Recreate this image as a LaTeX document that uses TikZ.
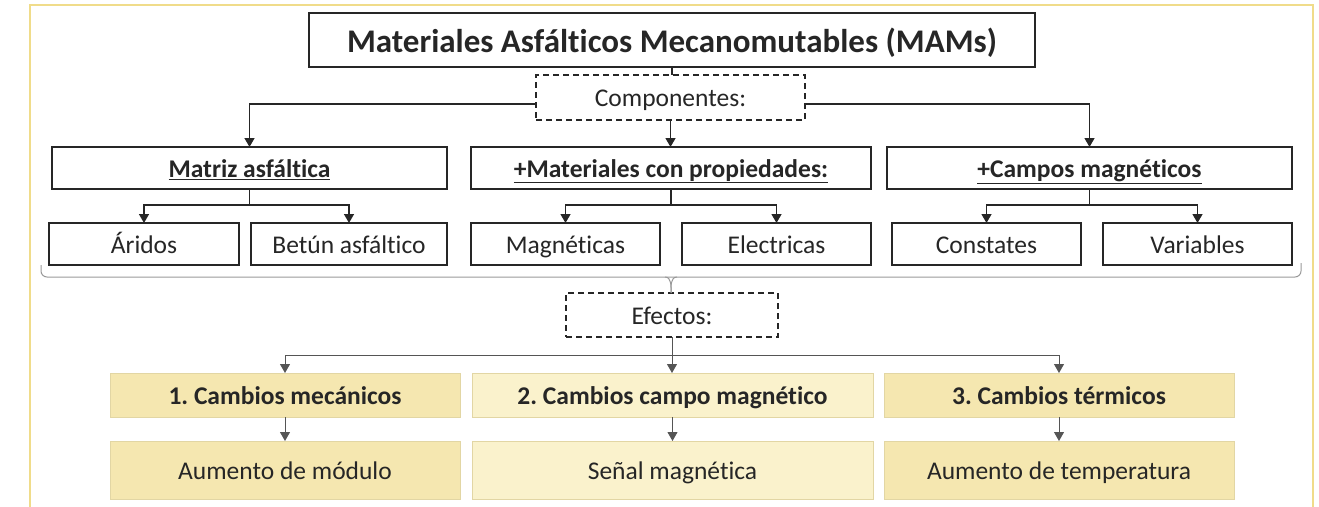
\documentclass[tikz,border=0pt]{standalone}
\usepackage{fontspec}
\setmainfont{Carlito}[Ligatures=NoCommon]
\frenchspacing
\usetikzlibrary{arrows.meta,calc}
\definecolor{ink}{HTML}{262626}
\definecolor{frameY}{HTML}{F0DC8A}
\definecolor{fillA}{HTML}{F5E7B0}
\definecolor{fillB}{HTML}{FAF2CC}
\definecolor{edgeY}{HTML}{E2D6A4}
\definecolor{thin}{HTML}{555555}
\tikzset{
  every node/.style={inner sep=0pt, outer sep=0pt, text=ink, align=center, text height=21.9pt, text depth=3.6pt},
  bodyfont/.style={font=\fontsize{25.5}{30}\selectfont},
  plainbox/.style={draw=ink, line width=1.4pt, fill=white, bodyfont},
  headbox/.style={plainbox, font=\fontsize{25.5}{30}\selectfont\bfseries},
  dashbox/.style={draw=ink, line width=1.3pt, dash pattern=on 6pt off 4pt, fill=white, bodyfont},
  ybox/.style={draw=edgeY, line width=0.8pt, fill=fillA, bodyfont},
  yboxB/.style={ybox, fill=fillB},
  conn/.style={draw=ink, line width=1.4pt},
  arr/.style={conn, -{Triangle[width=10pt,length=9pt]}},
  thinconn/.style={draw=thin, line width=0.9pt},
  thinarr/.style={thinconn, -{Triangle[width=10pt,length=9pt]}, color=thin},
  bracestyle/.style={draw=gray!80, line width=1pt, rounded corners=6pt}
}
\begin{document}
\begin{tikzpicture}[x=1pt,y=-1pt]
\useasboundingbox (0,0) rectangle (1319,506);
% frame
\draw[frameY, line width=2.6pt] (30,515) -- (30,5) -- (1313,5) -- (1313,515);

% title
\node[draw=ink, line width=1.4pt, minimum width=726pt, minimum height=54pt, text height=28pt, text depth=4pt,
      font=\fontsize{33}{38}\selectfont\bfseries] (title) at (672,40) {Materiales Asfálticos Mecanomutables (MAMs)};
\node[dashbox, minimum width=269pt, minimum height=45pt] (comp) at (670.5,97.5) {Componentes:};

% main categories
\node[headbox, minimum width=395pt, minimum height=42pt] (matriz) at (249.5,168) {\underline{Matriz asfáltica}};
\node[headbox, minimum width=400pt, minimum height=42pt] (mater) at (671,168) {\underline{+Materiales con propiedades:}};
\node[headbox, minimum width=405pt, minimum height=42pt] (campos) at (1089.5,168) {\underline{+Campos magnéticos}};

% children
\node[plainbox, minimum width=190pt, minimum height=42pt] (arid) at (144,244) {Áridos};
\node[plainbox, minimum width=196pt, minimum height=42pt] (betun) at (349,244) {Betún asfáltico};
\node[plainbox, minimum width=189pt, minimum height=42pt] (magn) at (565.5,244) {Magnéticas};
\node[plainbox, minimum width=189pt, minimum height=42pt] (elec) at (776.5,244) {Electricas};
\node[plainbox, minimum width=189pt, minimum height=42pt] (const) at (986.5,244) {Constates};
\node[plainbox, minimum width=189pt, minimum height=42pt] (var) at (1197.5,244) {Variables};

% effects
\node[dashbox, minimum width=212pt, minimum height=44pt] (ef) at (672,315) {Efectos:};

\node[ybox, minimum width=350pt, minimum height=44pt, font=\fontsize{25.5}{30}\selectfont\bfseries] (c1) at (285,395) {1. Cambios mecánicos};
\node[yboxB, minimum width=401pt, minimum height=44pt, font=\fontsize{25.5}{30}\selectfont\bfseries] (c2) at (672.5,395) {2. Cambios campo magnético};
\node[ybox, minimum width=350pt, minimum height=44pt, font=\fontsize{25.5}{30}\selectfont\bfseries] (c3) at (1059,395) {3. Cambios térmicos};

\node[ybox, minimum width=350pt, minimum height=58pt] (d1) at (285,470) {Aumento de módulo};
\node[yboxB, minimum width=401pt, minimum height=58pt] (d2) at (672.5,470) {Señal magnética};
\node[ybox, minimum width=350pt, minimum height=58pt] (d3) at (1059,470) {Aumento de temperatura};

% upper connectors
\draw[conn] (title.south) -- (title.south |- comp.north);
\draw[arr] (comp.south) -- (comp.south |- mater.north);
\draw[arr] ([yshift=-6.5pt]comp.west) -| (matriz.north);
\draw[arr] ([yshift=-6.5pt]comp.east) -| (campos.north);

\draw[arr] (matriz.south) -- ++(0,16) -| (arid.north);
\draw[arr] (matriz.south) -- ++(0,16) -| (betun.north);
\draw[arr] (mater.south) -- ++(0,16) -| (magn.north);
\draw[arr] (mater.south) -- ++(0,16) -| (elec.north);
\draw[arr] (campos.south) -- ++(0,16) -| (const.north);
\draw[arr] (campos.south) -- ++(0,16) -| (var.north);

% brace
\coordinate (bl) at (41,265);
\coordinate (br) at (1301,263);
\coordinate (btip) at (671,277);
\draw[bracestyle] (bl) -- (41,277) -- (1301,277) -- (br);
\draw[draw=gray!80, line width=1pt] (665,277) to[out=0,in=90] (btip |- ef.north);
\draw[draw=gray!80, line width=1pt] (677,277) to[out=180,in=90] (btip |- ef.north);

% lower connectors
\draw[thinarr] (ef.south) -- (ef.south |- c2.north);
\draw[thinconn] (c1.north |- 0,355) -- (c3.north |- 0,355);
\draw[thinarr] (c1.north |- 0,355) -- (c1.north);
\draw[thinarr] (c3.north |- 0,355) -- (c3.north);
\draw[thinarr] (c1.south) -- (d1.north);
\draw[thinarr] (c2.south) -- (d2.north);
\draw[thinarr] (c3.south) -- (d3.north);
\end{tikzpicture}
\end{document}
